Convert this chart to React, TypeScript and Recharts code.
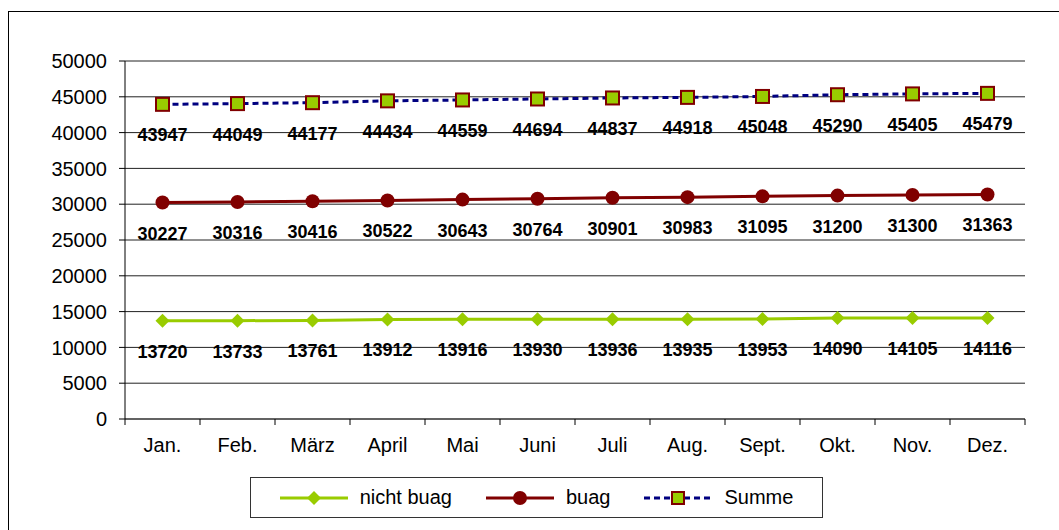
import React from "react";
import {
  LineChart,
  Line,
  XAxis,
  YAxis,
  CartesianGrid,
  Legend,
  LabelList,
} from "recharts";

const months = ["Jan.", "Feb.", "März", "April", "Mai", "Juni", "Juli", "Aug.", "Sept.", "Okt.", "Nov.", "Dez."];
const nichtBuag = [13720, 13733, 13761, 13912, 13916, 13930, 13936, 13935, 13953, 14090, 14105, 14116];
const buag = [30227, 30316, 30416, 30522, 30643, 30764, 30901, 30983, 31095, 31200, 31300, 31363];
const summe = [43947, 44049, 44177, 44434, 44559, 44694, 44837, 44918, 45048, 45290, 45405, 45479];
const yTicks = [0, 5000, 10000, 15000, 20000, 25000, 30000, 35000, 40000, 45000, 50000];

const data = months.map((m, i) => ({
  month: m,
  nichtBuag: nichtBuag[i],
  buag: buag[i],
  summe: summe[i],
}));

const FONT = "'Liberation Sans', Arial, sans-serif";
const GREEN = "#99CC00";
const RED = "#800000";
const NAVY = "#000080";
const HALF_BAND = 37.5;
const TICK_MARGIN = 19;

function Diamond(props: any) {
  const { cx, cy, index } = props;
  if (cx == null || cy == null) return null;
  const s = 7;
  return (
    <polygon
      key={`d-${index}`}
      points={`${cx},${cy - s} ${cx + s},${cy} ${cx},${cy + s} ${cx - s},${cy}`}
      fill={GREEN}
    />
  );
}

function Square(props: any) {
  const { cx, cy, index } = props;
  if (cx == null || cy == null) return null;
  const s = 6.5;
  return (
    <rect
      key={`s-${index}`}
      x={cx - s}
      y={cy - s}
      width={s * 2}
      height={s * 2}
      fill={GREEN}
      stroke={RED}
      strokeWidth={2}
    />
  );
}

// month label plus the small tick marks on the category boundaries
function MonthTick(props: any) {
  const { x, y, payload, index, visibleTicksCount } = props;
  const axisY = y - TICK_MARGIN;
  return (
    <g>
      <line x1={x - HALF_BAND} y1={axisY} x2={x - HALF_BAND} y2={axisY + 6} stroke="#000" />
      {index === visibleTicksCount - 1 && (
        <line x1={x + HALF_BAND} y1={axisY} x2={x + HALF_BAND} y2={axisY + 6} stroke="#000" />
      )}
      <text
        x={x}
        y={y}
        dy="0.71em"
        textAnchor="middle"
        fontFamily={FONT}
        fontSize={20}
        fill="#000"
      >
        {payload.value}
      </text>
    </g>
  );
}

function ValueLabel(props: any) {
  const { x, y, value } = props;
  return (
    <text
      x={x}
      y={y + 31}
      textAnchor="middle"
      dominantBaseline="central"
      fontFamily={FONT}
      fontWeight="bold"
      fontSize={18}
      fill="#000"
    >
      {value}
    </text>
  );
}

function LegendBox() {
  const item = (icon: React.ReactNode, label: string, last?: boolean) => (
    <div
      style={{
        display: "flex",
        alignItems: "center",
        marginRight: last ? 0 : 34,
        whiteSpace: "nowrap",
        flexShrink: 0,
      }}
    >
      <svg width={68} height={16} style={{ marginRight: 12 }}>
        {icon}
      </svg>
      <span>{label}</span>
    </div>
  );
  return (
    <div
      style={{
        boxSizing: "border-box",
        width: 573,
        height: 41,
        border: "1px solid #333",
        background: "#fff",
        display: "flex",
        alignItems: "center",
        justifyContent: "center",
        fontFamily: FONT,
        fontSize: 20,
        color: "#000",
      }}
    >
      {item(
        <>
          <line x1={0} y1={8} x2={68} y2={8} stroke={GREEN} strokeWidth={3} />
          <polygon points="34,1 41,8 34,15 27,8" fill={GREEN} />
        </>,
        "nicht buag"
      )}
      {item(
        <>
          <line x1={0} y1={8} x2={68} y2={8} stroke={RED} strokeWidth={3} />
          <circle cx={34} cy={8} r={7} fill={RED} />
        </>,
        "buag"
      )}
      {item(
        <>
          <line x1={0} y1={8} x2={68} y2={8} stroke={NAVY} strokeWidth={3} strokeDasharray="6 4" />
          <rect x={28} y={2} width={12} height={12} fill={GREEN} stroke={RED} strokeWidth={2} />
        </>,
        "Summe",
        true
      )}
    </div>
  );
}

export default function App() {
  return (
    <div
      style={{
        position: "absolute",
        left: 0,
        top: 0,
        width: 1059,
        height: 530,
        background: "#fff",
        overflow: "hidden",
      }}
    >
      <div
        style={{
          position: "absolute",
          left: 8,
          top: 11,
          width: 1100,
          height: 600,
          borderLeft: "1px solid #000",
          borderTop: "1px solid #000",
        }}
      />
      <div style={{ position: "absolute", left: 0, top: 0 }}>
        <LineChart
          width={1059}
          height={530}
          data={data}
          margin={{ top: 61, right: 34, left: 0, bottom: 81 }}
        >
          <CartesianGrid vertical={false} stroke="#222" strokeWidth={1} />
          <XAxis
            dataKey="month"
            height={30}
            padding={{ left: HALF_BAND, right: HALF_BAND }}
            tickSize={0}
            tickMargin={TICK_MARGIN}
            axisLine={{ stroke: "#555", strokeWidth: 1.5 }}
            tick={<MonthTick />}
            interval={0}
          />
          <YAxis
            width={125}
            domain={[0, 50000]}
            ticks={yTicks}
            interval={0}
            tickSize={6}
            tickMargin={12}
            axisLine={{ stroke: "#000" }}
            tickLine={{ stroke: "#000" }}
            tick={{ fontFamily: FONT, fontSize: 20, fill: "#000" }}
          />
          <Legend
            verticalAlign="middle"
            align="center"
            wrapperStyle={{ top: 477, left: 250, width: 573 }}
            content={() => <LegendBox />}
          />
          <Line
            dataKey="nichtBuag"
            name="nicht buag"
            stroke={GREEN}
            strokeWidth={3}
            dot={<Diamond />}
            isAnimationActive={false}
          >
            <LabelList dataKey="nichtBuag" content={<ValueLabel />} />
          </Line>
          <Line
            dataKey="buag"
            name="buag"
            stroke={RED}
            strokeWidth={3}
            dot={{ r: 7, fill: RED, stroke: "none" }}
            isAnimationActive={false}
          >
            <LabelList dataKey="buag" content={<ValueLabel />} />
          </Line>
          <Line
            dataKey="summe"
            name="Summe"
            stroke={NAVY}
            strokeWidth={3}
            strokeDasharray="6 4"
            dot={<Square />}
            isAnimationActive={false}
          >
            <LabelList dataKey="summe" content={<ValueLabel />} />
          </Line>
        </LineChart>
      </div>
    </div>
  );
}
